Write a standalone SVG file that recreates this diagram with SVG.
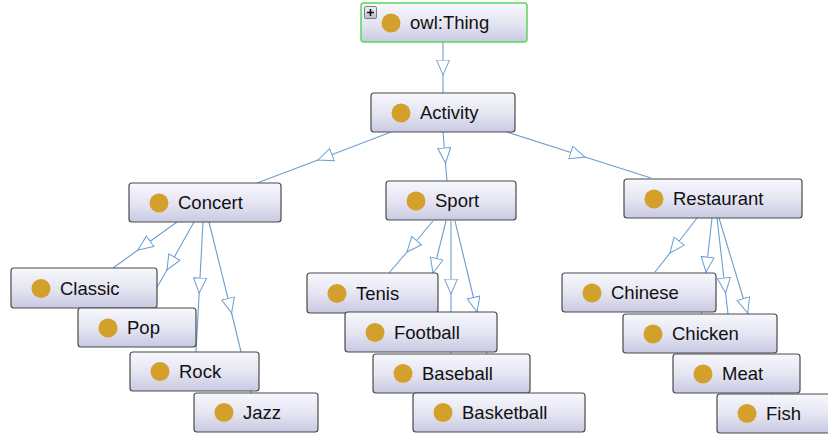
<svg xmlns="http://www.w3.org/2000/svg" width="828" height="437" viewBox="0 0 828 437">
<defs>
<linearGradient id="g" x1="0" y1="0" x2="0" y2="1">
<stop offset="0" stop-color="#f7f7fd"/>
<stop offset="0.5" stop-color="#e6e6f3"/>
<stop offset="1" stop-color="#c9c9e3"/>
</linearGradient>
<linearGradient id="pg" x1="0" y1="0" x2="0" y2="1">
<stop offset="0" stop-color="#f4f4f4"/>
<stop offset="1" stop-color="#b8bcc8"/>
</linearGradient>
<marker id="tri" markerUnits="userSpaceOnUse" markerWidth="17" markerHeight="15" refX="15.5" refY="7" orient="auto" viewBox="0 0 17 15">
<path d="M0.5,0.5 L15.5,7 L0.5,13.5 Z" fill="#fff" stroke="#6a9ed2" stroke-width="1"/>
</marker>
</defs>
<style>
.box{fill:url(#g);stroke:#4a4a4a;stroke-width:1.2}
.root{fill:url(#g);stroke:#5ad65a;stroke-width:1.5}
.dot{fill:#d3a02b}
.lbl{font-family:"Liberation Sans",Arial,sans-serif;font-size:18.5px;fill:#111}
.e{fill:none;stroke:#6a9ed2;stroke-width:1.1;marker-mid:url(#tri)}
</style>
<rect width="828" height="437" fill="#fff"/>
<g id="connectors">
<path class="e" d="M443,42 L443,75 L443,93"/>
<path class="e" d="M391,132 L318,160 L257,183"/>
<path class="e" d="M443,132 L445.5,163 L447,181"/>
<path class="e" d="M507,132 L585,157 L651,178"/>
<path class="e" d="M177,222 L138,250 L113,268"/>
<path class="e" d="M194,222 L167,270 L145,308"/>
<path class="e" d="M203,222 L199.2,293 L196,352"/>
<path class="e" d="M209,222 L231.6,313 L251,393"/>
<path class="e" d="M433,221 L407,252 L389,273"/>
<path class="e" d="M446,221 L433,273 L423,312"/>
<path class="e" d="M451,221 L451,294 L451,354"/>
<path class="e" d="M455,221 L477,312 L496,393"/>
<path class="e" d="M697,218 L670,253 L655,272"/>
<path class="e" d="M712,218 L706,272 L701.5,314"/>
<path class="e" d="M717,218 L725.6,293 L732.6,354"/>
<path class="e" d="M719,218 L747.7,313 L772,394"/>
</g>
<g id="owl-thing">
<rect class="root" x="361" y="3" width="166" height="39" rx="3"/>
<rect x="364.5" y="6.5" width="12" height="12" rx="1.5" fill="url(#pg)" stroke="#7a7f8a" stroke-width="1"/>
<path d="M370.5,9 V16 M367,12.5 H374" stroke="#111" stroke-width="1.6"/>
<circle class="dot" cx="391" cy="23" r="9.5"/>
<text class="lbl" x="410" y="29">owl:Thing</text>
</g>
<g id="activity">
<rect class="box" x="371" y="93" width="144" height="39" rx="3"/>
<circle class="dot" cx="401" cy="113" r="9.5"/>
<text class="lbl" x="420" y="119">Activity</text>
</g>
<g id="concert">
<rect class="box" x="129" y="183" width="152" height="39" rx="3"/>
<circle class="dot" cx="159" cy="203" r="9.5"/>
<text class="lbl" x="178" y="209">Concert</text>
</g>
<g id="sport">
<rect class="box" x="386" y="181" width="130" height="39" rx="3"/>
<circle class="dot" cx="416" cy="201" r="9.5"/>
<text class="lbl" x="435" y="207">Sport</text>
</g>
<g id="restaurant">
<rect class="box" x="624" y="179" width="178" height="39" rx="3"/>
<circle class="dot" cx="654" cy="199" r="9.5"/>
<text class="lbl" x="673" y="205">Restaurant</text>
</g>
<g id="classic">
<rect class="box" x="11" y="268" width="146" height="40" rx="3"/>
<circle class="dot" cx="41" cy="288.5" r="9.5"/>
<text class="lbl" x="60" y="294.5">Classic</text>
</g>
<g id="pop">
<rect class="box" x="78" y="308" width="118" height="39" rx="3"/>
<circle class="dot" cx="108" cy="328" r="9.5"/>
<text class="lbl" x="127" y="334">Pop</text>
</g>
<g id="rock">
<rect class="box" x="130" y="352" width="129" height="39" rx="3"/>
<circle class="dot" cx="160" cy="371.5" r="9.5"/>
<text class="lbl" x="179" y="377.5">Rock</text>
</g>
<g id="jazz">
<rect class="box" x="194" y="393" width="124" height="39" rx="3"/>
<circle class="dot" cx="224" cy="412.5" r="9.5"/>
<text class="lbl" x="243" y="418.5">Jazz</text>
</g>
<g id="tenis">
<rect class="box" x="307" y="273" width="131" height="40" rx="3"/>
<circle class="dot" cx="337" cy="293.5" r="9.5"/>
<text class="lbl" x="356" y="299.5">Tenis</text>
</g>
<g id="football">
<rect class="box" x="345" y="312" width="152" height="40" rx="3"/>
<circle class="dot" cx="375" cy="332.5" r="9.5"/>
<text class="lbl" x="394" y="338.5">Football</text>
</g>
<g id="baseball">
<rect class="box" x="373" y="354" width="157" height="39" rx="3"/>
<circle class="dot" cx="403" cy="373.5" r="9.5"/>
<text class="lbl" x="422" y="379.5">Baseball</text>
</g>
<g id="basketball">
<rect class="box" x="413" y="393" width="172" height="39" rx="3"/>
<circle class="dot" cx="443" cy="412.5" r="9.5"/>
<text class="lbl" x="462" y="418.5">Basketball</text>
</g>
<g id="chinese">
<rect class="box" x="562" y="273" width="154" height="39" rx="3"/>
<circle class="dot" cx="592" cy="293" r="9.5"/>
<text class="lbl" x="611" y="299">Chinese</text>
</g>
<g id="chicken">
<rect class="box" x="623" y="314" width="154" height="39" rx="3"/>
<circle class="dot" cx="653" cy="334" r="9.5"/>
<text class="lbl" x="672" y="340">Chicken</text>
</g>
<g id="meat">
<rect class="box" x="673" y="354" width="127" height="39" rx="3"/>
<circle class="dot" cx="703" cy="374" r="9.5"/>
<text class="lbl" x="722" y="380">Meat</text>
</g>
<g id="fish">
<rect class="box" x="717" y="394" width="116" height="39" rx="3"/>
<circle class="dot" cx="747" cy="413.5" r="9.5"/>
<text class="lbl" x="766" y="419.5">Fish</text>
</g>
</svg>
